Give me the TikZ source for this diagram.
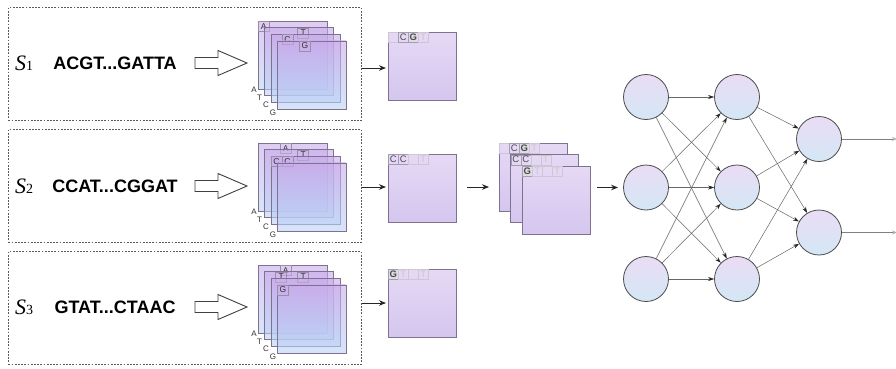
\documentclass[tikz,border=0pt]{standalone}
\usepackage{fontspec}
\setmainfont{Liberation Sans}
\newfontfamily\serifS{Liberation Serif}
\usetikzlibrary{arrows.meta}
\definecolor{layT}{HTML}{C9A9EA}
\definecolor{layB}{HTML}{B9D4F6}
\definecolor{layE}{HTML}{7F7290}
\definecolor{mapT}{HTML}{E6D9F5}
\definecolor{mapB}{HTML}{D4C6EE}
\definecolor{cirT}{HTML}{EADCF4}
\definecolor{cirB}{HTML}{D3E7F5}
\tikzset{
  dashbox/.style={draw=black!65, line width=0.7pt, dash pattern=on 1.8pt off 1.4pt, anchor=north west, minimum width=353pt, minimum height=113pt, inner sep=0pt},
  layer/.style={draw=layE, line width=0.6pt, top color=layT, bottom color=layB, fill opacity=0.6, anchor=north west, minimum width=69pt, minimum height=68pt, inner sep=0pt, outer sep=0pt},
  fmap/.style={draw=layE, line width=0.6pt, top color=mapT, bottom color=mapB, anchor=north west, minimum width=68pt, minimum height=68pt, inner sep=0pt, outer sep=0pt},
  scell/.style={draw=layE!80, line width=0.4pt, anchor=north west, minimum width=11pt, minimum height=10pt, inner sep=0pt, text=black!80, font=\fontsize{8.5}{8.5}\selectfont},
  mcell/.style={draw=layE!70, line width=0.4pt, anchor=north west, minimum width=10pt, minimum height=10pt, inner sep=0pt, text=black!70, font=\fontsize{9.5}{9.5}\selectfont},
  fcell/.style={mcell, draw=layE!40, text=black!22},
  bcell/.style={mcell, fill=layE!25, font=\fontsize{9.5}{9.5}\selectfont\bfseries},
  nuc/.style={font=\fontsize{8}{8}\selectfont, text=black!80, inner sep=0pt},
  seq/.style={font=\fontsize{18}{18}\selectfont\bfseries, inner sep=0pt},
  hollow/.style={draw=black!75, fill=white, line width=0.9pt, line join=miter},
  arr/.style={-{Stealth[length=7pt,width=5.5pt]}, line width=1pt, black!85},
  neuron/.style={circle, draw=black!70, line width=0.8pt, top color=cirT, bottom color=cirB, minimum size=45pt, inner sep=0pt},
  conn/.style={draw=black!60, line width=0.5pt, -{Stealth[length=6pt,width=4pt,black!85]}},
  outl/.style={draw=black!50, line width=0.6pt, -{Stealth[length=5pt,width=4pt,black!30]}},
}
\newcommand\slabel[1]{{\serifS\fontsize{22}{22}\selectfont\itshape S}{\serifS\fontsize{14}{14}\selectfont #1}}
\newcommand\seqOne{ACGT...GATTA}
\newcommand\seqTwo{CCAT...CGGAT}
\newcommand\seqThree{GTAT...CTAAC}
\begin{document}
\begin{tikzpicture}[x=1pt,y=-1pt]
\useasboundingbox (0,0) rectangle (896,368);
\fill[white] (0,0) rectangle (896,368);

% ---------------- rows ----------------
\foreach \r/\ym/\n/\s in {0/63/1/\seqOne, 122/186/2/\seqTwo, 244/307/3/\seqThree}{
  \node[dashbox] (B\n) at (8,7+\r) {};
  \node (S\n) at (24,\ym) {\slabel{\n}};
  \node[seq] (Q\n) at (115,\ym) {\s};
  \draw[hollow] (195,{\ym-5.5}) -- (218,{\ym-5.5}) -- (218,{\ym-12.5}) -- (247,\ym)
        -- (218,{\ym+12.5}) -- (218,{\ym+5.5}) -- (195,{\ym+5.5}) -- cycle;
  \node[nuc] (nA\n) at (254,90+\r) {A};
  \node[nuc] (nT\n) at (259.5,98+\r) {T};
  \node[nuc] (nC\n) at (266,105+\r) {C};
  \node[nuc] (nG\n) at (273,113+\r) {G};
}

% stack row 1 : ACGT
\node[layer] (L1a) at (258,21) {};
\node[scell] (c1a1) at (L1a.north west) {A};
\node[layer] (L1b) at (264.4,27.6) {};
\node[scell] (c1b4) at ([xshift=33pt]L1b.north west) {T};
\node[layer] (L1c) at (270.8,34.2) {};
\node[scell] (c1c2) at ([xshift=11pt]L1c.north west) {C};
\node[layer] (L1d) at (277.2,40.8) {};
\node[scell] (c1d3) at ([xshift=22pt]L1d.north west) {G};

% stack row 2 : CCAT
\node[layer] (L2a) at (258,143) {};
\node[scell] (c2a3) at ([xshift=22pt]L2a.north west) {A};
\node[layer] (L2b) at (264.4,149.6) {};
\node[scell] (c2b4) at ([xshift=33pt]L2b.north west) {T};
\node[layer] (L2c) at (270.8,156.2) {};
\node[scell] (c2c1) at (L2c.north west) {C};
\node[scell] (c2c2) at ([xshift=11pt]L2c.north west) {C};
\node[layer] (L2d) at (277.2,162.8) {};

% stack row 3 : GTAT
\node[layer] (L3a) at (258,265) {};
\node[scell] (c3a3) at ([xshift=22pt]L3a.north west) {A};
\node[layer] (L3b) at (264.4,271.6) {};
\node[scell] (c3b2) at ([xshift=11pt]L3b.north west) {T};
\node[scell] (c3b4) at ([xshift=33pt]L3b.north west) {T};
\node[layer] (L3c) at (270.8,278.2) {};
\node[layer] (L3d) at (277.2,284.8) {};
\node[scell] (c3d1) at (L3d.north west) {G};

% ---------------- feature maps ----------------
\node[fmap] (F1) at (388,32) {};
\node[fcell] (f1c1) at (F1.north west) {};
\node[mcell] (f1c2) at ([xshift=10pt]F1.north west) {C};
\node[bcell] (f1c3) at ([xshift=20pt]F1.north west) {G};
\node[fcell] (f1c4) at ([xshift=30pt]F1.north west) {T};

\node[fmap] (F2) at (388,154) {};
\node[mcell] (f2c1) at (F2.north west) {C};
\node[mcell] (f2c2) at ([xshift=10pt]F2.north west) {C};
\node[fcell] (f2c3) at ([xshift=20pt]F2.north west) {};
\node[fcell] (f2c4) at ([xshift=30pt]F2.north west) {T};

\node[fmap] (F3) at (388,269) {};
\node[bcell] (f3c1) at (F3.north west) {G};
\node[fcell] (f3c2) at ([xshift=10pt]F3.north west) {T};
\node[fcell] (f3c3) at ([xshift=20pt]F3.north west) {};
\node[fcell] (f3c4) at ([xshift=30pt]F3.north west) {T};

% row arrows
\coordinate (a1) at (362,68);
\coordinate (a2) at (362,187);
\coordinate (a3) at (362,303);
\draw[arr, shorten >=2pt] (a1) -- (a1 -| F1.west);
\draw[arr, shorten >=2pt] (a2) -- (a2 -| F2.west);
\draw[arr, shorten >=2pt] (a3) -- (a3 -| F3.west);

% ---------------- merged stack ----------------
\node[fmap] (M1) at (499,143) {};
\node[fcell] (m1c1) at (M1.north west) {};
\node[mcell] (m1c2) at ([xshift=10pt]M1.north west) {C};
\node[bcell] (m1c3) at ([xshift=20pt]M1.north west) {G};
\node[fcell] (m1c4) at ([xshift=30pt]M1.north west) {T};
\node[fmap] (M2) at (510.5,154.5) {};
\node[mcell] (m2c1) at (M2.north west) {C};
\node[mcell] (m2c2) at ([xshift=10pt]M2.north west) {C};
\node[fcell] (m2c3) at ([xshift=20pt]M2.north west) {};
\node[fcell] (m2c4) at ([xshift=30pt]M2.north west) {T};
\node[fmap] (M3) at (522,166) {};
\node[bcell] (m3c1) at (M3.north west) {G};
\node[fcell] (m3c2) at ([xshift=10pt]M3.north west) {T};
\node[fcell] (m3c3) at ([xshift=20pt]M3.north west) {};
\node[fcell] (m3c4) at ([xshift=30pt]M3.north west) {T};

\coordinate (b1) at (467,187);
\draw[arr, shorten >=10pt] (b1) -- (b1 -| M1.west);

% ---------------- network ----------------
\node[neuron] (i1) at (646,97) {};
\node[neuron] (i2) at (646,187.5) {};
\node[neuron] (i3) at (646,279) {};
\node[neuron] (h1) at (737,97) {};
\node[neuron] (h2) at (737,187.5) {};
\node[neuron] (h3) at (737,279) {};
\node[neuron] (o1) at (819,139) {};
\node[neuron] (o2) at (819,232.5) {};

\coordinate (b2) at (597,187.5);
\draw[arr, shorten >=5pt] (b2) -- (i2);

\foreach \a in {1,2,3}{
  \foreach \b in {1,2,3}{
    \draw[conn] (i\a) -- (h\b);
  }
  \foreach \b in {1,2}{
    \draw[conn] (h\a) -- (o\b);
  }
}
\coordinate (e1) at (897,139);
\coordinate (e2) at (897,232.5);
\draw[outl] (o1) -- (e1);
\draw[outl] (o2) -- (e2);
\end{tikzpicture}
\end{document}
